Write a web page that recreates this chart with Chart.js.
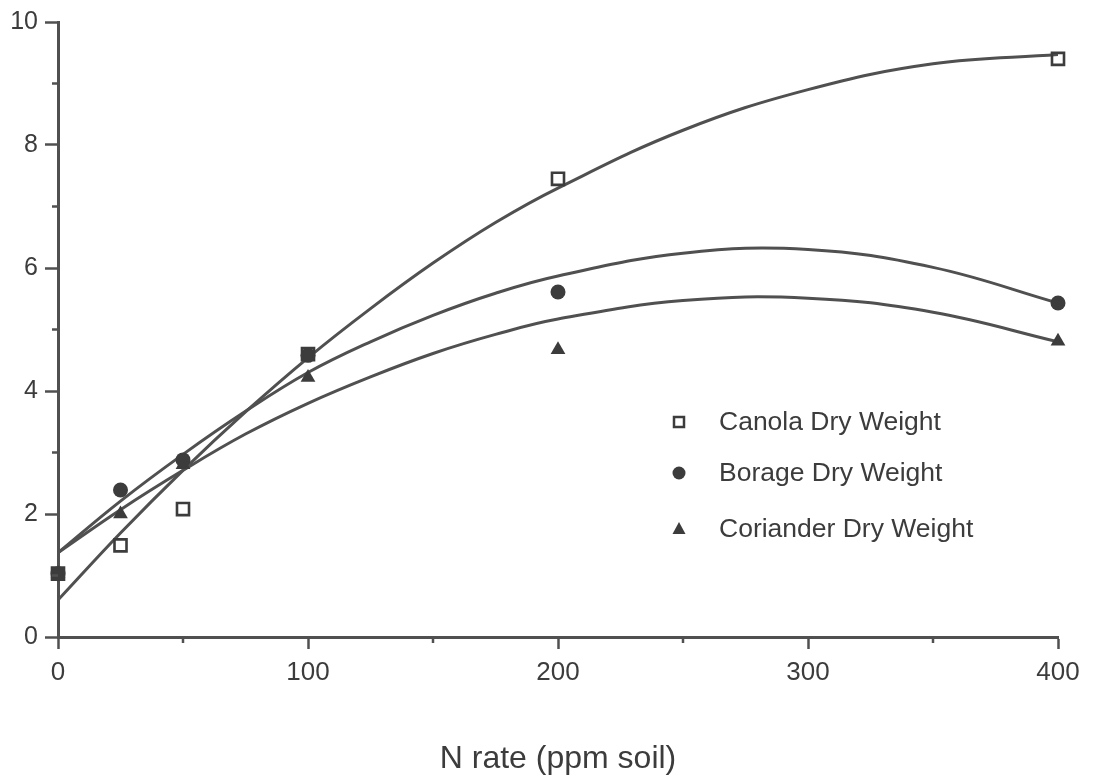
<!DOCTYPE html>
<html>
<head>
<meta charset="utf-8">
<script src="https://cdn.jsdelivr.net/npm/chart.js@4.4.0/dist/chart.umd.min.js"></script>
<style>
  html, body { margin: 0; padding: 0; background: #fff; }
  #wrap { width: 1096px; height: 780px; position: relative; }
</style>
</head>
<body>
<div id="wrap"><canvas id="nrate"></canvas></div>
<script>
// measured points (N rate, ppm soil)
const nRates = [0, 25, 50, 100, 200, 400];
const canolaDW = [1.03, 1.49, 2.08, 4.60, 7.45, 9.40];
const borageDW = [1.03, 2.39, 2.88, 4.58, 5.61, 5.43];
const corianderDW = [1.03, 2.00, 2.80, 4.22, 4.67, 4.81];

// fitted curves
const fitRates = [0, 25, 50, 75, 100, 125, 150, 175, 200, 250, 300, 350, 400];
const canolaFit = [0.60, 1.69, 2.71, 3.66, 4.54, 5.34, 6.08, 6.74, 7.30, 8.24, 8.90, 9.32, 9.47];
const borageFit = [1.37, 2.21, 2.97, 3.67, 4.30, 4.80, 5.23, 5.59, 5.87, 6.24, 6.30, 6.01, 5.43];
const corianderFit = [1.37, 2.07, 2.71, 3.30, 3.80, 4.23, 4.61, 4.92, 5.17, 5.47, 5.51, 5.28, 4.80];

const legendLabels = ['Canola Dry Weight', 'Borage Dry Weight', 'Coriander Dry Weight'];

const ink = '#3c3c3c';
const lineInk = '#505050';
const fontFamily = '"Liberation Sans", Arial, Helvetica, sans-serif';

function pts(xs, ys) {
  return xs.map(function(x, i) { return { x: x, y: ys[i] }; });
}

// short minor ticks half way between the labelled ticks
const minorTicks = {
  id: 'minorTicks',
  afterDraw(chart) {
    const { ctx, chartArea: { left, bottom }, scales: { x, y } } = chart;
    ctx.save();
    ctx.strokeStyle = lineInk;
    ctx.lineWidth = 2.5;
    for (let i = 0; i < x.ticks.length - 1; i++) {
      const px = x.getPixelForValue((x.ticks[i].value + x.ticks[i + 1].value) / 2);
      ctx.beginPath(); ctx.moveTo(px, bottom); ctx.lineTo(px, bottom + 6); ctx.stroke();
    }
    for (let i = 0; i < y.ticks.length - 1; i++) {
      const py = y.getPixelForValue((y.ticks[i].value + y.ticks[i + 1].value) / 2);
      ctx.beginPath(); ctx.moveTo(left - 6, py); ctx.lineTo(left, py); ctx.stroke();
    }
    ctx.restore();
  }
};

// legend sits inside the plot, lower right
const insideLegend = {
  id: 'insideLegend',
  afterDraw(chart) {
    const ctx = chart.ctx;
    const rows = [422, 473, 529];
    const mx = 679, tx = 719;
    ctx.save();
    ctx.font = '26.5px ' + fontFamily;
    ctx.textBaseline = 'middle';
    ctx.fillStyle = ink;
    ctx.strokeStyle = ink;
    rows.forEach(function(ry, i) {
      ctx.lineWidth = 2.5;
      if (i === 0) {
        ctx.strokeRect(mx - 5, ry - 5, 10, 10);
      } else if (i === 1) {
        ctx.beginPath(); ctx.arc(mx, ry, 6.5, 0, Math.PI * 2); ctx.fill();
      } else {
        ctx.beginPath();
        ctx.moveTo(mx, ry - 7); ctx.lineTo(mx + 6.5, ry + 5); ctx.lineTo(mx - 6.5, ry + 5);
        ctx.closePath(); ctx.fill();
      }
      ctx.fillText(legendLabels[i], tx, ry + 1);
    });
    ctx.restore();
  }
};

function fitLine(label, values) {
  return {
    label: label,
    type: 'line',
    data: pts(fitRates, values),
    borderColor: lineInk,
    borderWidth: 3,
    pointRadius: 0,
    tension: 0.4,
    fill: false
  };
}

new Chart('nrate', {
  type: 'scatter',
  data: {
    datasets: [
      {
        label: legendLabels[0],
        data: pts(nRates, canolaDW),
        pointStyle: 'rect',
        pointRadius: 8.5,
        pointBorderWidth: 2.6,
        pointBorderColor: ink,
        pointBackgroundColor: 'rgba(0,0,0,0)',
        clip: false
      },
      {
        label: legendLabels[1],
        data: pts(nRates, borageDW),
        pointStyle: 'circle',
        pointRadius: 7.5,
        pointBorderWidth: 0,
        pointBackgroundColor: ink,
        clip: false
      },
      {
        label: legendLabels[2],
        data: pts(nRates, corianderDW),
        pointStyle: 'triangle',
        pointRadius: 8.5,
        pointBorderWidth: 0,
        pointBackgroundColor: ink,
        clip: false
      },
      fitLine('canola fit', canolaFit),
      fitLine('borage fit', borageFit),
      fitLine('coriander fit', corianderFit)
    ]
  },
  options: {
    responsive: true,
    maintainAspectRatio: false,
    animation: false,
    layout: { padding: { top: 17, right: 38, left: 0, bottom: 0 } },
    scales: {
      x: {
        type: 'linear',
        min: 0,
        max: 400,
        afterFit(scale) { scale.height = 143; },
        ticks: {
          stepSize: 100,
          color: ink,
          padding: 8,
          font: { family: fontFamily, size: 26 }
        },
        grid: {
          drawOnChartArea: false,
          drawTicks: true,
          tickLength: 12,
          tickWidth: 2.5,
          tickColor: lineInk
        },
        border: { display: true, color: lineInk, width: 3 },
        title: {
          display: true,
          text: 'N rate (ppm soil)',
          color: ink,
          font: { family: fontFamily, size: 32 },
          padding: { top: 0, bottom: 2 }
        }
      },
      y: {
        type: 'linear',
        min: 0,
        max: 10,
        afterFit(scale) { scale.width = 58; },
        ticks: {
          stepSize: 2,
          color: ink,
          padding: 7,
          font: { family: fontFamily, size: 25 }
        },
        grid: {
          drawOnChartArea: false,
          drawTicks: true,
          tickLength: 13,
          tickWidth: 2.5,
          tickColor: lineInk
        },
        border: { display: true, color: lineInk, width: 3 }
      }
    },
    plugins: {
      legend: { display: false },
      tooltip: { enabled: false }
    }
  },
  plugins: [minorTicks, insideLegend]
});
</script>
</body>
</html>
